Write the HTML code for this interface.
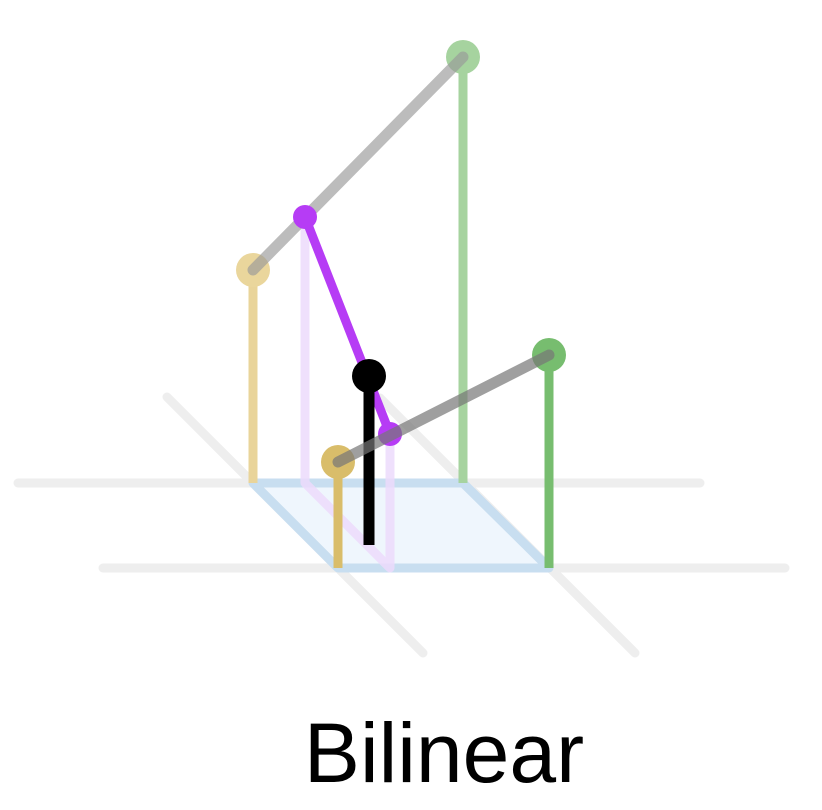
<!DOCTYPE html>
<html><head><meta charset="utf-8"><style>body{margin:0;background:#fff}svg{display:block}</style></head>
<body>
<svg width="822" height="810" viewBox="0 0 822 810">
<g stroke="#eeeeee" stroke-width="9" stroke-linecap="round" fill="none">
<line x1="18" y1="483" x2="700" y2="483"/>
<line x1="103" y1="568" x2="785" y2="568"/>
<line x1="167" y1="397" x2="423" y2="653"/>
<line x1="380" y1="398" x2="635" y2="653"/>
</g>
<polygon points="253,483 463,483 549,568 338,568" fill="#eff6fd" stroke="#c8def0" stroke-width="9" stroke-linejoin="round"/>
<polyline points="305,217 305,483 390,568 390,434" fill="none" stroke="#ecdafc" stroke-width="9" stroke-linejoin="round" stroke-linecap="round" opacity="0.85"/>
<line x1="253" y1="483" x2="253" y2="270" stroke="#e9d49a" stroke-width="9"/>
<line x1="463" y1="483" x2="463" y2="57" stroke="#a6d39f" stroke-width="9"/>
<line x1="338" y1="568" x2="338" y2="462" stroke="#d9bd6a" stroke-width="9"/>
<line x1="549" y1="568" x2="549" y2="355" stroke="#77bd6f" stroke-width="9"/>
<circle cx="253" cy="270" r="17" fill="#ead69c"/>
<circle cx="463" cy="57" r="17" fill="#a6d39f"/>
<circle cx="338" cy="462" r="17" fill="#d9bd6a"/>
<circle cx="549" cy="355" r="17" fill="#77bd6f"/>
<line x1="253" y1="270" x2="463" y2="57" stroke="#999" stroke-width="11" stroke-linecap="round" opacity="0.65"/>
<line x1="305" y1="217" x2="390" y2="434" stroke="#b63cf5" stroke-width="9"/>
<circle cx="305" cy="217" r="12" fill="#b63cf5"/>
<circle cx="390" cy="434" r="12" fill="#b63cf5"/>
<line x1="369" y1="376" x2="369" y2="545" stroke="#000" stroke-width="11"/>
<circle cx="369" cy="376" r="17" fill="#000"/>
<line x1="338" y1="462" x2="549" y2="355" stroke="#777" stroke-width="11" stroke-linecap="round" opacity="0.7"/>
<text x="444" y="782" text-anchor="middle" font-family="Liberation Sans, sans-serif" font-size="84" fill="#000">Bilinear</text>
</svg>
</body></html>
